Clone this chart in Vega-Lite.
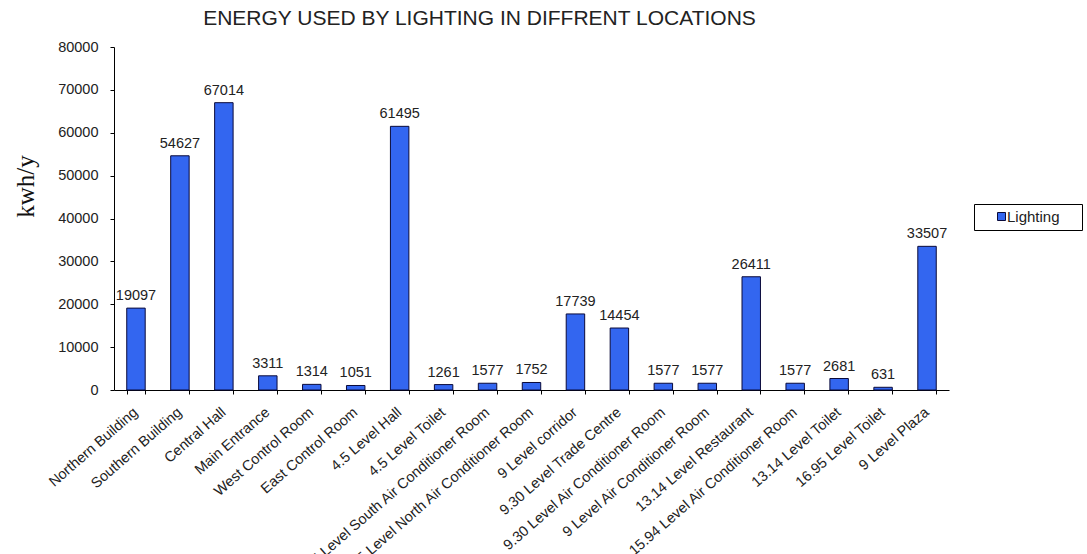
{
  "$schema": "https://vega.github.io/schema/vega-lite/v6.json",
  "width": 835,
  "height": 343,
  "autosize": {"type": "none"},
  "padding": {"left": 114, "top": 47, "right": 138, "bottom": 164},
  "background": "white",
  "config": {
    "view": {"stroke": null},
    "font": "Liberation Sans",
    "text": {"font": "Liberation Sans"}
  },
  "title": {
    "text": "ENERGY USED BY LIGHTING IN DIFFRENT LOCATIONS",
    "font": "Liberation Sans",
    "fontSize": 21,
    "fontWeight": "normal",
    "color": "#222222",
    "anchor": "middle",
    "frame": "group",
    "dx": -52,
    "dy": 27,
    "baseline": "alphabetic",
    "offset": 20
  },
  "data": {
    "values": [
      {"location": "Northern Building", "series": "Lighting", "kwh": 19097},
      {"location": "Southern Building", "series": "Lighting", "kwh": 54627},
      {"location": "Central Hall", "series": "Lighting", "kwh": 67014},
      {"location": "Main Entrance", "series": "Lighting", "kwh": 3311},
      {"location": "West Control Room", "series": "Lighting", "kwh": 1314},
      {"location": "East Control Room", "series": "Lighting", "kwh": 1051},
      {"location": "4.5 Level Hall", "series": "Lighting", "kwh": 61495},
      {"location": "4.5 Level Toilet", "series": "Lighting", "kwh": 1261},
      {"location": "4.5 Level  South Air Conditioner Room", "series": "Lighting", "kwh": 1577},
      {"location": "4.5 Level North Air Conditioner Room", "series": "Lighting", "kwh": 1752},
      {"location": "9  Level  corridor", "series": "Lighting", "kwh": 17739},
      {"location": "9.30  Level  Trade Centre", "series": "Lighting", "kwh": 14454},
      {"location": "9.30  Level  Air Conditioner Room", "series": "Lighting", "kwh": 1577},
      {"location": "9  Level  Air Conditioner Room", "series": "Lighting", "kwh": 1577},
      {"location": "13.14 Level Restaurant", "series": "Lighting", "kwh": 26411},
      {"location": "15.94 Level Air Conditioner Room", "series": "Lighting", "kwh": 1577},
      {"location": "13.14 Level Toilet", "series": "Lighting", "kwh": 2681},
      {"location": "16.95 Level Toilet", "series": "Lighting", "kwh": 631},
      {"location": "9 Level Plaza", "series": "Lighting", "kwh": 33507}
    ]
  },
  "encoding": {
    "x": {
      "field": "location",
      "type": "nominal",
      "sort": null,
      "scale": {"paddingInner": 0.58, "paddingOuter": 0.29},
      "axis": {
        "title": null,
        "labelAngle": -41,
        "labelFontSize": 14.5,
        "labelColor": "#222222",
        "labelFont": "Liberation Sans",
        "labelPadding": 11,
        "labelOffset": -5,
        "labelLimit": 400,
        "tickBand": "extent",
        "tickSize": 4,
        "tickColor": "black",
        "domainColor": "black",
        "grid": false
      }
    },
    "y": {
      "field": "kwh",
      "type": "quantitative",
      "scale": {"domain": [0, 80000], "nice": false},
      "axis": {
        "title": "kwh/y",
        "titleFont": "Liberation Serif",
        "titleFontSize": 25,
        "titleFontWeight": "normal",
        "titleColor": "#111111",
        "titleX": -89,
        "titleY": 139,
        "titleBaseline": "middle",
        "titleAngle": -90,
        "values": [0, 10000, 20000, 30000, 40000, 50000, 60000, 70000, 80000],
        "format": "d",
        "labelFontSize": 14.5,
        "labelColor": "#222222",
        "labelFont": "Liberation Sans",
        "labelPadding": 12,
        "tickSize": 4,
        "tickColor": "black",
        "domainColor": "black",
        "grid": false
      }
    }
  },
  "layer": [
    {
      "mark": {"type": "bar", "stroke": "#0a0a3a", "strokeWidth": 1},
      "encoding": {
        "color": {
          "field": "series",
          "type": "nominal",
          "scale": {"range": ["#3366f0"]},
          "legend": {
            "title": null,
            "orient": "none",
            "legendX": 860,
            "legendY": 157,
            "strokeColor": "black",
            "padding": 5,
            "labelFontSize": 15,
            "labelFont": "Liberation Sans",
            "labelColor": "#222222",
            "labelExpr": "datum.label + '\u00a0\u00a0\u00a0\u00a0\u200b'",
            "symbolType": "square",
            "symbolSize": 64,
            "symbolOffset": 15,
            "symbolStrokeColor": "#0a0a3a",
            "symbolStrokeWidth": 1,
            "labelOffset": -2
          }
        }
      }
    },
    {
      "mark": {"type": "text", "baseline": "alphabetic", "dy": -8, "fontSize": 14.5, "color": "#222222", "font": "Liberation Sans"},
      "encoding": {
        "text": {"field": "kwh", "type": "quantitative", "format": "d"}
      }
    }
  ]
}
